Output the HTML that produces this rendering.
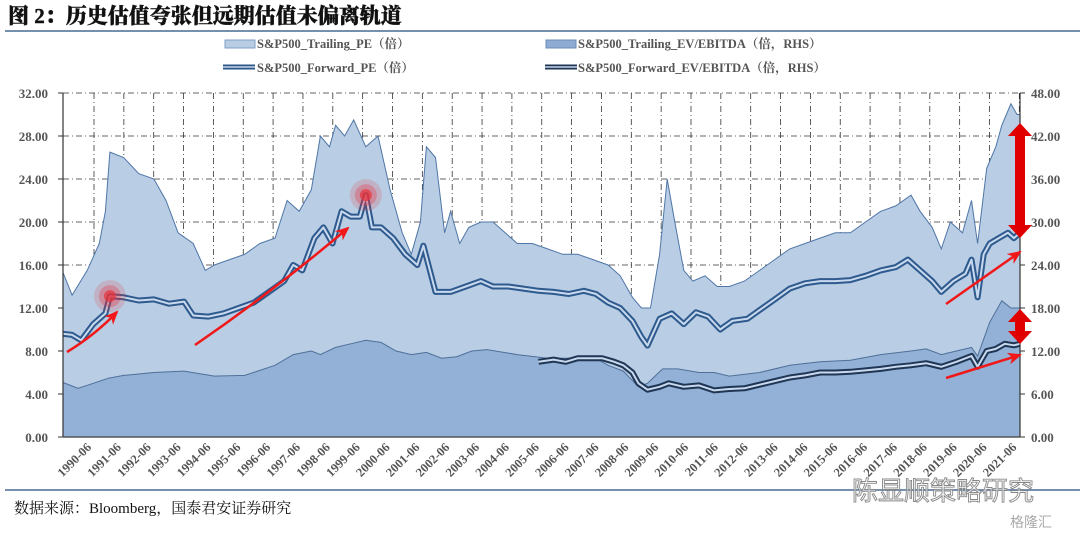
<!DOCTYPE html>
<html><head><meta charset="utf-8">
<style>
body{margin:0;background:#fff;width:1080px;height:535px;overflow:hidden;font-family:"Liberation Serif","Noto Serif CJK SC",serif}
svg{display:block}
</style></head>
<body>
<svg id="chart" width="1080" height="535" viewBox="0 0 1080 535" xmlns="http://www.w3.org/2000/svg">
<text x="8" y="23" font-size="21" font-weight="900" fill="#111" stroke="#111" stroke-width="0.4" font-family="'Liberation Serif','Noto Serif CJK SC',serif">图 2：历史估值夸张但远期估值未偏离轨道</text>
<line x1="5" y1="31" x2="1080" y2="31" stroke="#4a6a94" stroke-width="1.5"/>
<g font-size="12.5" font-weight="bold" fill="#555">
 <g><rect x="225" y="40" width="30" height="8" fill="#b8cce4" stroke="#7f9ec4"/><text x="257" y="48">S&amp;P500_Trailing_PE（倍）</text></g>
 <g><rect x="546" y="40" width="30" height="8" fill="#8eabd3" stroke="#6a8cb9"/><text x="578" y="48">S&amp;P500_Trailing_EV/EBITDA（倍，RHS）</text></g>
 <g><line x1="223" y1="67" x2="255" y2="67" stroke="#2e5688" stroke-width="5"/><line x1="223" y1="67" x2="255" y2="67" stroke="#c6d7ec" stroke-width="1.5"/><text x="257" y="72">S&amp;P500_Forward_PE（倍）</text></g>
 <g><line x1="545" y1="67" x2="577" y2="67" stroke="#1f3553" stroke-width="5"/><line x1="545" y1="67" x2="577" y2="67" stroke="#c6d7ec" stroke-width="1.5"/><text x="578" y="72">S&amp;P500_Forward_EV/EBITDA（倍，RHS）</text></g>
</g>
<g id="plot"></g>
<line x1="5" y1="490" x2="1080" y2="490" stroke="#4a6a94" stroke-width="1.5"/>
<text x="14" y="513" font-size="15" fill="#111">数据来源：Bloomberg，国泰君安证券研究</text>
<text x="852" y="500" font-size="26" fill="#fff" fill-opacity="0.6" stroke="#888" stroke-width="0.9" font-family="'Noto Sans CJK SC',sans-serif">陈显顺策略研究</text>
<text x="1010" y="527" font-size="14" fill="#aaa" font-family="'Noto Sans CJK SC',sans-serif">格隆汇</text>
</svg>
<script>
const yearTicks=["1990-06","1991-06","1992-06","1993-06","1994-06","1995-06","1996-06","1997-06","1998-06","1999-06","2000-06","2001-06","2002-06","2003-06","2004-06","2005-06","2006-06","2007-06","2008-06","2009-06","2010-06","2011-06","2012-06","2013-06","2014-06","2015-06","2016-06","2017-06","2018-06","2019-06","2020-06","2021-06"];
const leftTicks=[0,4,8,12,16,20,24,28,32];
const rightTicks=[0,6,12,18,24,30,36,42,48];
const trailingPeT=[1990.0,1990.3,1990.8,1991.2,1991.4,1991.55,1992.0,1992.5,1993.0,1993.4,1993.8,1994.3,1994.7,1995.0,1995.5,1996.0,1996.5,1997.0,1997.4,1997.8,1998.2,1998.5,1998.8,1999.0,1999.3,1999.6,2000.0,2000.4,2000.8,2001.2,2001.5,2001.8,2002.0,2002.3,2002.6,2002.8,2003.1,2003.4,2003.8,2004.2,2004.6,2005.0,2005.5,2006.0,2006.5,2007.0,2007.5,2008.0,2008.4,2008.8,2009.1,2009.4,2009.7,2009.95,2010.2,2010.5,2010.8,2011.2,2011.6,2012.0,2012.5,2013.0,2013.5,2014.0,2014.5,2015.0,2015.5,2016.0,2016.5,2017.0,2017.5,2018.0,2018.3,2018.7,2019.0,2019.3,2019.7,2020.0,2020.2,2020.5,2020.8,2021.0,2021.3,2021.5,2021.6];
const trailingPeV=[15.3,13.2,15.5,18,21,26.5,26,24.5,24,22,19,18,15.5,16,16.5,17,18,18.5,22,21,23,28,27,29,28,29.5,27,28,23,19,17,20,27,26,19,21,18,19.5,20,20,19,18,18,17.5,17,17,16.5,16,15,13,12,12,17,24,20,15.5,14.5,15,14,14,14.5,15.5,16.5,17.5,18,18.5,19,19,20,21,21.5,22.5,21,19.5,17.5,20,19,22,18,25,27,29,31,30,30];
const trailingEvT=[1990.0,1990.5,1991.0,1991.5,1992.0,1993.0,1994.0,1995.0,1996.0,1997.0,1997.6,1998.2,1998.5,1999.0,1999.5,2000.0,2000.5,2001.0,2001.5,2002.0,2002.5,2003.0,2003.5,2004.0,2005.0,2006.0,2007.0,2007.5,2008.0,2008.5,2009.0,2009.3,2009.8,2010.3,2011.0,2011.5,2012.0,2013.0,2014.0,2015.0,2016.0,2017.0,2018.0,2018.5,2019.0,2019.5,2020.0,2020.2,2020.6,2021.0,2021.3,2021.6];
const trailingEvV=[7.6,6.8,7.5,8.2,8.6,9,9.2,8.5,8.6,10,11.5,12,11.5,12.5,13,13.5,13.2,12,11.5,11.8,11,11.2,12,12.2,11.5,11,11,11.2,10,9.2,7,7.5,9.5,9.5,9,9,8.5,9,10,10.5,10.7,11.5,12,12.3,11.5,12,12.5,11.3,16,19,18,18];
const forwardPeT=[1990.0,1990.3,1990.6,1991.0,1991.4,1991.55,1992.0,1992.5,1993.0,1993.5,1994.0,1994.3,1994.8,1995.3,1995.8,1996.3,1996.8,1997.3,1997.6,1997.9,1998.3,1998.6,1998.9,1999.2,1999.5,1999.8,2000.0,2000.2,2000.5,2000.9,2001.3,2001.7,2001.9,2002.3,2002.6,2002.8,2003.3,2003.8,2004.2,2004.7,2005.2,2005.7,2006.2,2006.7,2007.2,2007.6,2008.0,2008.4,2008.8,2009.1,2009.3,2009.7,2010.1,2010.5,2010.9,2011.3,2011.7,2012.1,2012.6,2013.0,2013.5,2014.0,2014.5,2015.0,2015.5,2016.0,2016.5,2017.0,2017.5,2017.9,2018.3,2018.7,2019.0,2019.4,2019.8,2020.0,2020.2,2020.4,2020.6,2020.9,2021.2,2021.4,2021.6];
const forwardPeV=[9.6,9.5,9,10.5,11.5,13.1,13,12.7,12.8,12.4,12.6,11.3,11.2,11.5,12,12.5,13.5,14.5,16,15.5,18.5,19.5,18,21,20.5,20.5,22.5,19.5,19.5,18.5,17,16,17.8,13.5,13.5,13.5,14,14.5,14,14,13.8,13.6,13.5,13.3,13.6,13.3,12.5,12,10.8,9.3,8.5,11,11.5,10.5,11.6,11.2,10,10.8,11,11.8,12.8,13.8,14.3,14.5,14.5,14.6,15,15.5,15.8,16.5,15.5,14.5,13.5,14.5,15.2,16.5,13,17,18,18.5,19,18.5,19];
const forwardEvT=[2005.7,2006.2,2006.6,2007.0,2007.4,2007.8,2008.2,2008.5,2008.8,2009.0,2009.3,2009.7,2010.0,2010.5,2011.0,2011.5,2012.0,2012.5,2013.0,2013.5,2014.0,2014.5,2015.0,2015.5,2016.0,2016.5,2017.0,2017.5,2018.0,2018.5,2019.0,2019.5,2020.0,2020.2,2020.5,2020.8,2021.1,2021.4,2021.6];
const forwardEvV=[10.5,10.8,10.5,11,11,11,10.5,10,9,7.5,6.6,7,7.5,7,7.2,6.5,6.7,6.8,7.3,7.8,8.3,8.6,9,9,9.1,9.3,9.5,9.8,10,10.3,9.8,10.5,11.3,9.8,12,12.3,13,12.8,13];

const NS="http://www.w3.org/2000/svg";
const plot=document.getElementById('plot');
const X0=63,X1=1020,Y0=437,Y1=93,T0=1990.0,T1=2021.6;
const xs=t=>X0+(t-T0)/(T1-T0)*(X1-X0);
const yl=v=>Y0-v/32*(Y0-Y1);
const yr=v=>Y0-v/48*(Y0-Y1);
const tickX=i=>94+i*29.85;
function mk(tag,attrs){const e=document.createElementNS(NS,tag);for(const k in attrs)e.setAttribute(k,attrs[k]);plot.appendChild(e);return e;}
function pts(T,V,ys){return T.map((t,i)=>xs(t).toFixed(1)+','+ys(V[i]).toFixed(1));}

leftTicks.forEach(v=>{if(v===0)return;const g=mk('line',{x1:X0,x2:X1,y1:yl(v),y2:yl(v),stroke:'#333','stroke-width':0.8,'stroke-dasharray':'6,3,1,3'});

});
yearTicks.forEach((lab,i)=>{const x=tickX(i);if(x>=X1)return;const g=mk('line',{x1:x,x2:x,y1:Y1,y2:Y0,stroke:'#333','stroke-width':0.8,'stroke-dasharray':'6,3,1,3'});

});

let p=pts(trailingPeT,trailingPeV,yl);
let a=mk('polygon',{points:xs(trailingPeT[0])+','+Y0+' '+p.join(' ')+' '+xs(trailingPeT[trailingPeT.length-1])+','+Y0,fill:'#b9cde5',stroke:'#4f76a6','stroke-width':1});


p=pts(trailingEvT,trailingEvV,yr);
a=mk('polygon',{points:xs(trailingEvT[0])+','+Y0+' '+p.join(' ')+' '+xs(trailingEvT[trailingEvT.length-1])+','+Y0,fill:'#93b1d6',stroke:'#4f6f99','stroke-width':1});



function dbl(T,V,ys,col,name){const d=pts(T,V,ys).join(' ');
const o=mk('polyline',{points:d,fill:'none',stroke:col,'stroke-width':6,'stroke-linejoin':'round'});


const i=mk('polyline',{points:d,fill:'none',stroke:'#c9d9ee','stroke-width':2,'stroke-linejoin':'round'});

}
dbl(forwardPeT,forwardPeV,yl,'#2e5a8e','forward-pe-line');
dbl(forwardEvT,forwardEvV,yr,'#1f3655','forward-ev-ebitda-line');

let ax=mk('line',{x1:X0,x2:X0,y1:Y1,y2:Y0,stroke:'#333','stroke-width':1.2});


ax=mk('line',{x1:X1,x2:X1,y1:Y1,y2:Y0,stroke:'#333','stroke-width':1.2});


ax=mk('line',{x1:X0,x2:X1,y1:Y0,y2:Y0,stroke:'#555','stroke-width':1.5});


leftTicks.forEach(v=>{const t=mk('text',{x:48,y:yl(v)+5,'font-size':13,'font-weight':'bold',fill:'#555','text-anchor':'end'});t.textContent=v.toFixed(2);


mk('line',{x1:X0-5,x2:X0,y1:yl(v),y2:yl(v),stroke:'#333'});});
rightTicks.forEach(v=>{const t=mk('text',{x:1031,y:yr(v)+5,'font-size':13,'font-weight':'bold',fill:'#555'});t.textContent=v.toFixed(2);


mk('line',{x1:X1,x2:X1+5,y1:yr(v),y2:yr(v),stroke:'#333'});});
yearTicks.forEach((lab,i)=>{const x=tickX(i)-2;const t=mk('text',{x:x,y:448,'font-size':12.5,'font-weight':'bold',fill:'#555','text-anchor':'end',transform:`rotate(-45 ${x} 448)`});t.textContent=lab;

});

function glow(cx,cy){[[16,0.18],[11,0.3],[6,0.7]].forEach(([r,o])=>mk('circle',{cx,cy,r,fill:'#e8303a','fill-opacity':o}));}
glow(xs(1991.55),yl(13.1));glow(xs(2000.0),yl(22.5));
mk('defs',{}).innerHTML='<marker id="ah" markerUnits="userSpaceOnUse" markerWidth="14" markerHeight="12" refX="12" refY="6" orient="auto"><path d="M0,0 L14,6 L0,12 L4,6 Z" fill="#f01818"/></marker>';
["M67,352 Q95,335 117,312","M195,345 Q275,290 348,228","M946,304 L1020,252","M946,378 L1020,355"].forEach(d=>{const e=mk('path',{d,fill:'none',stroke:'#f01818','stroke-width':2.5,'marker-end':'url(#ah)'});

});
function varrow(x,y1,y2){const e=mk('path',{d:`M${x},${y1} L${x+12},${y1+13} L${x+5},${y1+13} L${x+5},${y2-13} L${x+12},${y2-13} L${x},${y2} L${x-12},${y2-13} L${x-5},${y2-13} L${x-5},${y1+13} L${x-12},${y1+13} Z`,fill:'#e00000'});

}
varrow(1020,123,238);varrow(1020,309,344);
</script>
</body></html>
